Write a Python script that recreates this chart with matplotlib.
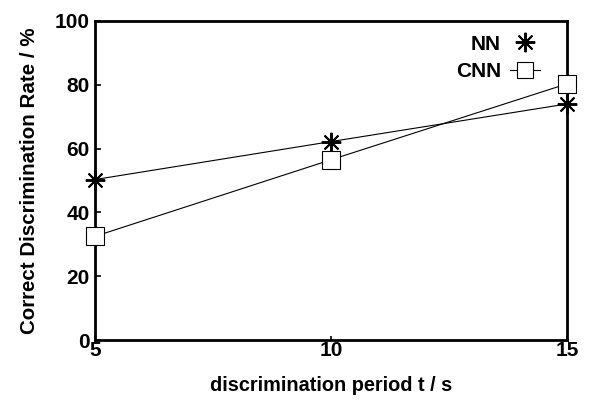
import matplotlib
matplotlib.use("Agg")
import matplotlib.pyplot as plt
from matplotlib.lines import Line2D

periods = [5, 10, 15]
nn_rate = [50.3, 62.2, 74.0]
cnn_rate = [32.5, 56.5, 80.3]
series_names = ["NN", "CNN"]
x_ticks = [5, 10, 15]
y_ticks = [0, 20, 40, 60, 80, 100]

plt.rcParams['font.family'] = ['Liberation Sans', 'DejaVu Sans']
plt.rcParams['font.weight'] = 'bold'

fig = plt.figure(figsize=(5.94, 4.05), dpi=100)
ax = fig.add_axes([95/594, 1-340/405, (567-95)/594, (340-21)/405])

star = (8, 2, 0)
ax.plot(periods, nn_rate, color='black', lw=0.8, marker=star, ms=14,
        mew=1.4, mec='black', clip_on=False, zorder=3)
ax.plot(periods, cnn_rate, color='black', lw=0.8, marker='s', ms=12.5,
        mew=0.8, mfc='white', mec='black', clip_on=False, zorder=3)

ax.set_xlim(5, 15)
ax.set_ylim(0, 100)
ax.set_xticks(x_ticks)
ax.set_yticks(y_ticks)
ax.tick_params(axis='y', direction='in', length=4, width=1.2, labelsize=15, pad=4)
ax.tick_params(axis='x', direction='in', length=3, width=1.2, labelsize=15, pad=1)
for lab in ax.get_xticklabels() + ax.get_yticklabels():
    lab.set_fontweight('bold')
for s in ax.spines.values():
    s.set_linewidth(2)

ax.set_xlabel("discrimination period t / s", fontsize=14.3, fontweight='bold', labelpad=11)
ax.set_ylabel("Correct Discrimination Rate / %", fontsize=14.8, fontweight='bold', labelpad=11)

handles = [
    Line2D([], [], ls='none', marker=star, ms=14, mew=1.4, color='black'),
    Line2D([], [], color='black', lw=0.8, marker='s', ms=11.5, mew=0.8,
           mfc='white', mec='black'),
]
leg = ax.legend(handles, series_names, loc='upper right', bbox_to_anchor=(0.942, 0.957),
                frameon=False, markerfirst=False, fontsize=15, handlelength=1.4,
                handletextpad=0.45, labelspacing=0.42, borderpad=0, borderaxespad=0)
for t in leg.get_texts():
    t.set_fontweight('bold')

fig.savefig("out.png", dpi=100)
